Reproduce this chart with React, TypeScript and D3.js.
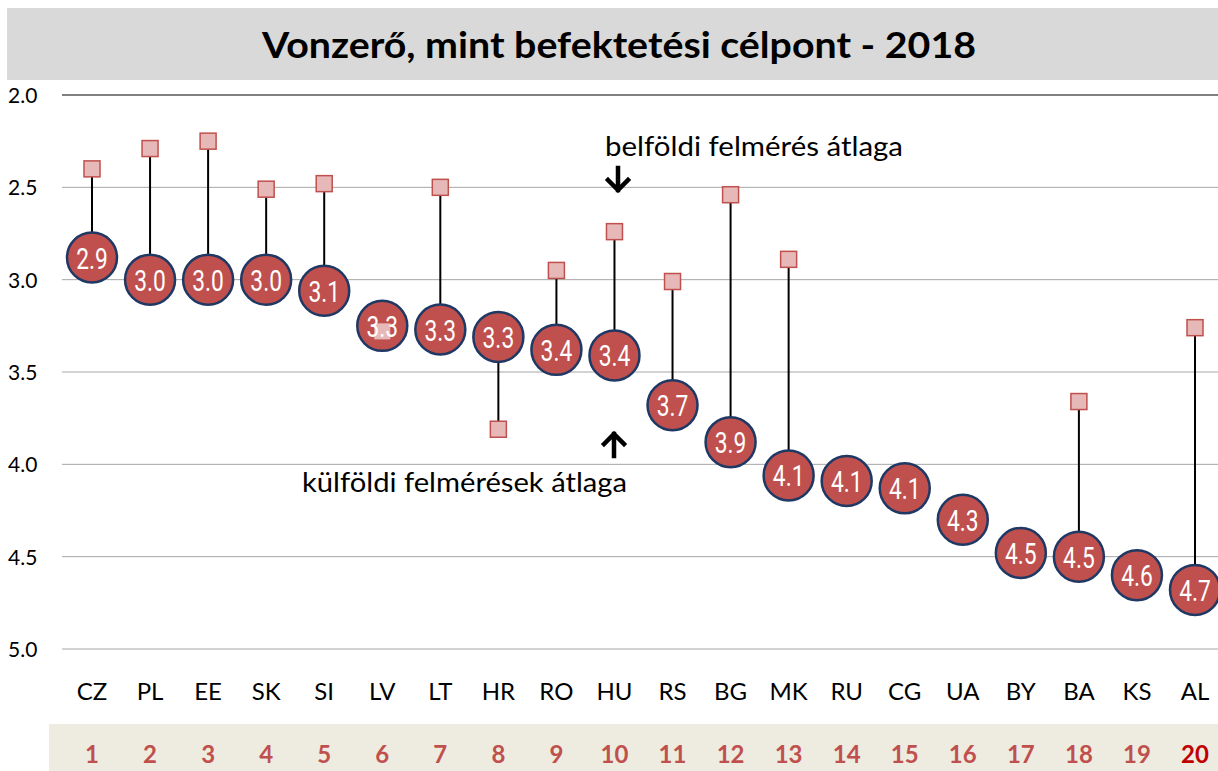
import React from "react";
import { scaleLinear, scalePoint } from "d3";

const countries = ["CZ", "PL", "EE", "SK", "SI", "LV", "LT", "HR", "RO", "HU", "RS", "BG", "MK", "RU", "CG", "UA", "BY", "BA", "KS", "AL"];
// külföldi felmérések átlaga (circles)
const foreignAvg = [2.88, 3.0, 3.0, 3.0, 3.06, 3.25, 3.27, 3.31, 3.38, 3.41, 3.68, 3.88, 4.06, 4.09, 4.13, 4.3, 4.48, 4.5, 4.6, 4.68];
const foreignLabels = ["2.9", "3.0", "3.0", "3.0", "3.1", "3.3", "3.3", "3.3", "3.4", "3.4", "3.7", "3.9", "4.1", "4.1", "4.1", "4.3", "4.5", "4.5", "4.6", "4.7"];
// belföldi felmérés átlaga (squares), null = nincs adat
const domesticAvg: (number | null)[] = [2.4, 2.29, 2.25, 2.51, 2.48, 3.28, 2.5, 3.81, 2.95, 2.74, 3.01, 2.54, 2.89, null, null, null, null, 3.66, null, 3.26];
const ranks = countries.map((_, i) => i + 1);
const yTicks = [2.0, 2.5, 3.0, 3.5, 4.0, 4.5, 5.0];

const W = 1218;
const H = 771;
const font = "Lato, 'Open Sans', sans-serif";

export default function App() {
  const x = scalePoint<string>().domain(countries).range([92, 1195]);
  const y = scaleLinear().domain([2, 5]).range([95, 649]);
  const r = 25;
  const sq = 16;

  return (
    <div style={{ position: "fixed", left: 0, top: 0 }}>
      <svg width={W} height={H} style={{ display: "block", background: "#fff" }}>
        {/* title */}
        <rect x={7} y={8} width={W - 7} height={72} fill="#d9d9d9" />
        <text x={262} y={58} textLength={714} lengthAdjust="spacingAndGlyphs" fontFamily={font} fontWeight={700} fontSize={37} fill="#000">
          Vonzerő, mint befektetési célpont - 2018
        </text>

        {/* grid */}
        {yTicks.map((t, i) => (
          <g key={t}>
            <line x1={62} x2={W} y1={y(t)} y2={y(t)} stroke={i === 0 ? "#808080" : "#a6a6a6"} strokeWidth={i === 0 ? 2 : 1} />
            <text x={8} y={y(t) + 8} fontFamily={font} fontSize={21} fill="#000">
              {t.toFixed(1)}
            </text>
          </g>
        ))}

        {/* connectors */}
        {countries.map((c, i) =>
          domesticAvg[i] == null ? null : (
            <line key={c} x1={x(c)} x2={x(c)} y1={y(domesticAvg[i] as number)} y2={y(foreignAvg[i])} stroke="#000" strokeWidth={2} />
          )
        )}

        {/* foreign circles */}
        {countries.map((c, i) => (
          <circle key={c} cx={x(c)} cy={y(foreignAvg[i])} r={r} fill="#c0504d" stroke="#1f3864" strokeWidth={2.5} />
        ))}

        {/* domestic squares */}
        {countries.map((c, i) =>
          domesticAvg[i] == null ? null : (
            <rect
              key={c}
              x={(x(c) as number) - sq / 2}
              y={y(domesticAvg[i] as number) - sq / 2}
              width={sq}
              height={sq}
              fill="#e6b9b8"
              stroke={i === 5 ? "none" : "#c0504d"}
              strokeWidth={1.5}
            />
          )
        )}

        {/* circle labels */}
        {countries.map((c, i) => (
          <text
            key={c}
            transform={`translate(${x(c)},${y(foreignAvg[i]) + 11}) scale(0.76,1)`}
            textAnchor="middle"
            fontFamily="Roboto, sans-serif"
            fontSize={30}
            fill="#fff"
          >
            {foreignLabels[i]}
          </text>
        ))}

        {/* annotations */}
        <text x={605} y={156} textLength={298} lengthAdjust="spacingAndGlyphs" fontFamily={font} fontSize={27} fill="#000">
          belföldi felmérés átlaga
        </text>
        <path d="M618,168 V190 M608,180 L618,190 L628,180" fill="none" stroke="#000" strokeWidth={4.5} strokeLinecap="square" />
        <text x={302} y={492} textLength={325} lengthAdjust="spacingAndGlyphs" fontFamily={font} fontSize={27} fill="#000">
          külföldi felmérések átlaga
        </text>
        <path d="M614,456 V434 M604,444 L614,434 L624,444" fill="none" stroke="#000" strokeWidth={4.5} strokeLinecap="square" />

        {/* category labels */}
        {countries.map((c) => (
          <text key={c} x={x(c)} y={700} textAnchor="middle" fontFamily={font} fontSize={24} fill="#000">
            {c}
          </text>
        ))}

        {/* rank row */}
        <rect x={49} y={724} width={W - 49} height={H - 724} fill="#eeebe1" />
        {countries.map((c, i) => (
          <text
            key={c}
            x={x(c)}
            y={763}
            textAnchor="middle"
            fontFamily={font}
            fontWeight={700}
            fontSize={24}
            fill={i === countries.length - 1 ? "#c00000" : "#c0504d"}
          >
            {ranks[i]}
          </text>
        ))}
      </svg>
    </div>
  );
}
